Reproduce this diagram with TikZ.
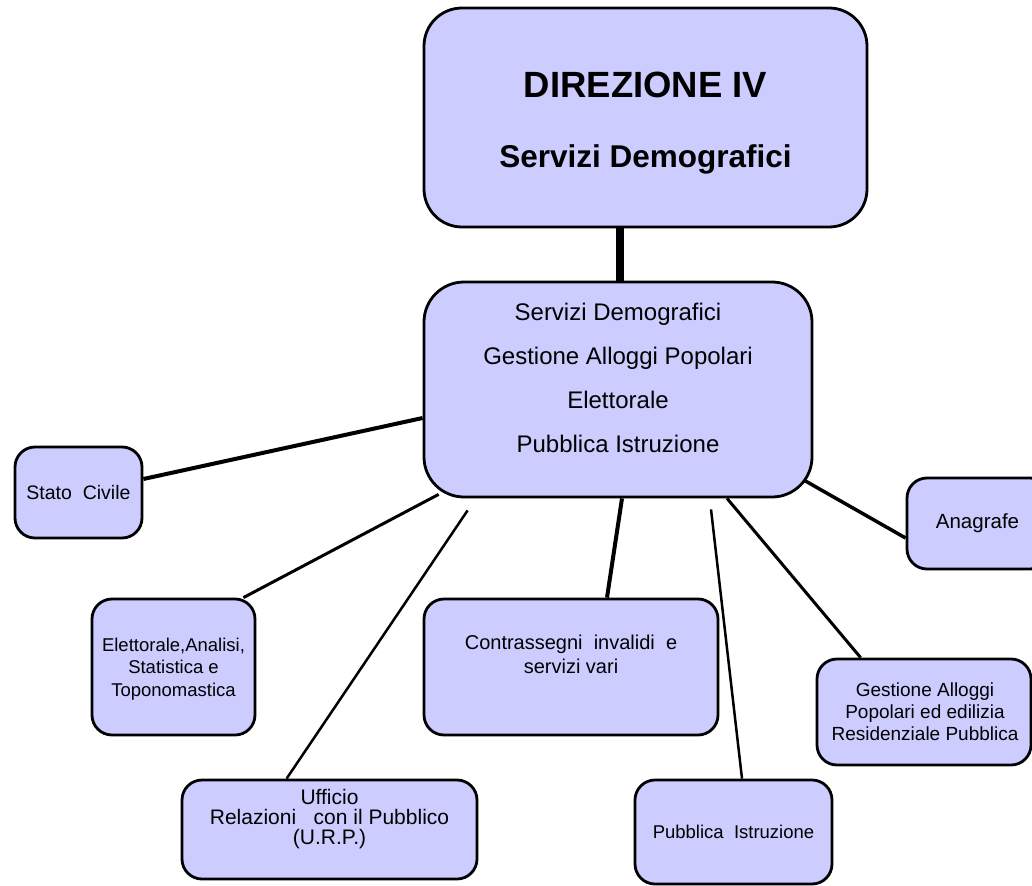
\documentclass[tikz,border=0pt]{standalone}
\usepackage{fontspec}
\setmainfont{Liberation Sans}
\definecolor{boxfill}{HTML}{CCCCFF}
\tikzset{
  unitbox/.style={draw=black, line width=2.8pt, fill=boxfill, rectangle,
    rounded corners=#1, inner sep=0pt},
  unitbox/.default=20pt,
  txt/.style={font=\fontsize{19.5}{22}\selectfont, align=center, text=black, inner sep=0pt},
  link/.style={draw=black, line width=#1},
  link/.default=3pt
}
\begin{document}
\begin{tikzpicture}[x=1pt, y=-1pt]
\clip (0,0) rectangle (1032,885);

% head of the department
\node[unitbox=38pt, minimum width=443pt, minimum height=219pt,
  label={[txt, yshift=33pt, font=\fontsize{36.5}{40}\selectfont\bfseries]center:DIREZIONE IV},
  label={[txt, yshift=-42pt, font=\fontsize{31.5}{34}\selectfont\bfseries]center:Servizi Demografici}]
  (dir) at (645.5,117.5) {};

% services of the department
\node[unitbox=40pt, minimum width=388pt, minimum height=215pt,
  label={[txt, yshift=12pt, font=\fontsize{24}{44}\selectfont]center:{Servizi Demografici\\Gestione Alloggi Popolari\\Elettorale\\Pubblica Istruzione}}]
  (mid) at (618,389.5) {};

% offices
\node[unitbox, minimum width=127pt, minimum height=91pt,
  label={[txt]center:{Stato\ \ Civile}}] (stato) at (78.5,492.5) {};
\node[unitbox, minimum width=143pt, minimum height=91pt,
  label={[txt, xshift=-1pt, font=\fontsize{20.5}{22}\selectfont]center:{Anagrafe}}] (anag) at (978.5,523.5) {};
\node[unitbox, minimum width=163pt, minimum height=136pt,
  label={[txt, yshift=-2pt, font=\fontsize{18.5}{22.5}\selectfont]center:{Elettorale,Analisi,\\Statistica e\\Toponomastica}}] (elet) at (173.5,667) {};
\node[unitbox, minimum width=294pt, minimum height=136pt,
  label={[txt, yshift=13pt, font=\fontsize{20}{24}\selectfont]center:{Contrassegni\ \ invalidi\ \ e\\servizi vari}}] (contr) at (571,667) {};
\node[unitbox, minimum width=214pt, minimum height=106pt,
  label={[txt, xshift=1pt, font=\fontsize{19}{22}\selectfont]center:{Gestione Alloggi\\Popolari ed edilizia\\Residenziale Pubblica}}] (gest) at (924,712) {};
\node[unitbox, minimum width=295pt, minimum height=99pt,
  label={[txt, yshift=10.5pt, font=\fontsize{21}{20}\selectfont]center:{Ufficio\\Relazioni\ \ \ con il Pubblico\\(U.R.P.)}}] (urp) at (329.5,829.5) {};
\node[unitbox, minimum width=197pt, minimum height=104pt,
  label={[txt, font=\fontsize{18.5}{22}\selectfont]center:{Pubblica\ \ Istruzione}}] (pubb) at (733.5,832) {};

% free ends of the two links that start below the services box
\coordinate (urpfree) at ([xshift=45pt, yshift=-12pt]mid.south west);
\coordinate (pubbfree) at ([xshift=93pt, yshift=-11pt]mid.south);

% links
\draw[link=8.5pt] ([xshift=-25.5pt]dir.south) -- ([xshift=2pt]mid.north);
\draw[link=4pt] ([yshift=-28.5pt]mid.west) -- ([yshift=13.5pt]stato.east);
\draw[link=3pt] ([xshift=16pt, yshift=4pt]mid.south west) -- ([xshift=-13pt]elet.north east);
\draw[link=2.5pt] (urpfree) -- ([xshift=106pt]urp.north west);
\draw[link=4pt] ([xshift=4pt]mid.south) -- ([xshift=36pt]contr.north);
\draw[link=2.5pt] (pubbfree) -- ([xshift=8.5pt]pubb.north);
\draw[link=3pt] ([xshift=109pt]mid.south) -- ([xshift=45pt]gest.north west);
\draw[link=3.5pt] ([xshift=-9pt, yshift=18pt]mid.south east) -- ([yshift=-14.5pt]anag.west);
\end{tikzpicture}
\end{document}
